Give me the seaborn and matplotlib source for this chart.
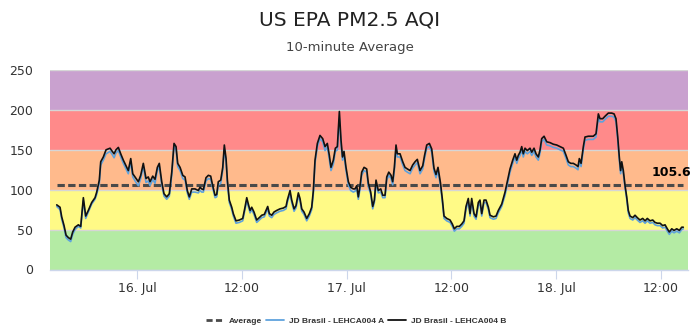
import matplotlib
matplotlib.use("Agg")
import matplotlib.pyplot as plt
import seaborn as sns
import pandas as pd
from matplotlib.lines import Line2D

TITLE = "US EPA PM2.5 AQI"
SUBTITLE = "10-minute Average"
SERIES_NAMES = ["JD Brasil - LEHCA004 A", "JD Brasil - LEHCA004 B"]
AVG_LABEL = "Average"
AVERAGE = 105.6

# hours since 15 Jul 00:00
HOURS = [14.80, 15.18, 15.37, 15.64, 15.87, 16.13, 16.40, 16.63, 16.90, 17.28,
         17.55, 17.85, 18.12, 18.42, 18.81, 19.19, 19.38, 19.68, 19.84, 20.14,
         20.45, 20.91, 21.10, 21.37, 21.59, 21.86, 22.13, 22.43, 22.82, 23.00,
         23.28, 23.51, 23.89, 24.15, 24.42, 24.72, 25.03, 25.29, 25.49, 25.80,
         26.06, 26.33, 26.55, 26.83, 27.09, 27.40, 27.70, 27.98, 28.24, 28.47,
         28.66, 28.93, 29.24, 29.50, 29.76, 29.99, 30.27, 30.64, 31.02, 31.22,
         31.41, 31.60, 31.90, 32.17, 32.44, 32.67, 32.94, 33.13, 33.31, 33.59,
         33.82, 34.00, 34.20, 34.35, 34.57, 34.85, 35.03, 35.34, 35.72, 36.11,
         36.37, 36.57, 36.75, 36.95, 37.14, 37.40, 37.71, 38.01, 38.29, 38.58,
         38.78, 38.97, 39.16, 39.43, 39.69, 40.00, 40.38, 40.76, 41.07, 41.22,
         41.53, 41.72, 41.99, 42.21, 42.48, 42.67, 42.87, 43.13, 43.44, 43.74,
         44.01, 44.20, 44.39, 44.66, 44.96, 45.27, 45.54, 45.80, 46.03, 46.22,
         46.49, 46.72, 46.95, 47.18, 47.37, 47.54, 47.71, 47.94, 48.21, 48.48,
         48.78, 48.97, 49.17, 49.35, 49.55, 49.74, 50.01, 50.31, 50.50, 50.77,
         51.00, 51.19, 51.38, 51.64, 51.92, 52.15, 52.41, 52.61, 52.84, 53.10,
         53.29, 53.48, 53.67, 53.82, 54.13, 54.44, 54.70, 54.97, 55.28, 55.58,
         55.85, 56.11, 56.42, 56.73, 56.94, 57.19, 57.49, 57.76, 58.02, 58.25,
         58.48, 58.77, 58.98, 59.17, 59.48, 59.86, 60.12, 60.35, 60.63, 60.92,
         61.20, 61.46, 61.69, 61.95, 62.15, 62.34, 62.61, 62.84, 63.10, 63.29,
         63.49, 63.75, 63.98, 64.25, 64.44, 64.82, 65.13, 65.39, 65.78, 66.16,
         66.42, 66.73, 67.04, 67.30, 67.50, 67.68, 67.88, 68.07, 68.25, 68.45,
         68.71, 69.02, 69.22, 69.48, 69.71, 69.97, 70.17, 70.36, 70.63, 70.94,
         71.31, 71.69, 72.08, 72.46, 72.84, 73.15, 73.41, 73.69, 73.98, 74.29,
         74.52, 74.67, 74.87, 75.13, 75.32, 75.70, 76.27, 76.58, 76.85, 77.04,
         77.35, 77.61, 77.99, 78.38, 78.65, 78.87, 79.07, 79.25, 79.40, 79.53,
         79.71, 79.91, 80.10, 80.28, 80.48, 80.79, 81.05, 81.31, 81.62, 81.93,
         82.20, 82.46, 82.77, 83.08, 83.34, 83.61, 83.92, 84.22, 84.49, 84.75,
         84.98, 85.26, 85.52, 85.83, 86.13, 86.40, 86.58]

AQI_A = [79, 75, 63, 52, 40, 37, 35, 44, 50, 54,
         52, 86, 64, 72, 82, 88, 94, 108, 131, 137,
         145, 148, 145, 140, 146, 149, 141, 133, 124, 120,
         135, 116, 109, 105, 114, 129, 109, 111, 105, 113,
         108, 124, 129, 106, 92, 88, 92, 118, 154, 150,
         129, 124, 114, 112, 96, 88, 97, 97, 96, 99,
         97, 97, 111, 114, 113, 102, 90, 91, 106, 108,
         124, 151, 135, 108, 84, 75, 67, 58, 59, 61,
         75, 86, 79, 71, 75, 69, 59, 62, 65, 66,
         71, 76, 67, 65, 69, 71, 73, 74, 76, 84,
         95, 84, 73, 77, 92, 86, 73, 69, 61, 67,
         75, 95, 133, 154, 164, 160, 149, 154, 138, 124,
         132, 148, 150, 190, 157, 137, 143, 124, 106, 99,
         97, 98, 101, 88, 101, 118, 124, 122, 104, 94,
         76, 84, 108, 96, 97, 90, 90, 112, 118, 114,
         106, 124, 152, 141, 141, 131, 124, 122, 120, 127,
         131, 134, 120, 126, 139, 152, 154, 147, 123, 115,
         124, 104, 85, 64, 61, 59, 54, 48, 51, 51,
         54, 58, 75, 85, 67, 85, 67, 63, 80, 83,
         67, 84, 84, 75, 65, 63, 64, 71, 79, 93,
         106, 122, 133, 141, 133, 139, 143, 150, 141, 148,
         145, 148, 143, 148, 141, 137, 146, 160, 163, 156,
         155, 153, 152, 150, 148, 139, 131, 129, 129, 127,
         125, 135, 129, 150, 162, 163, 163, 166, 190, 185,
         185, 188, 192, 192, 191, 185, 162, 137, 120, 130,
         120, 102, 88, 71, 64, 62, 65, 62, 59, 61,
         58, 61, 58, 59, 56, 55, 55, 52, 53, 48,
         44, 48, 46, 48, 46, 50, 51]

AQI_B = [81, 78, 66, 55, 43, 40, 38, 47, 53, 56,
         54, 90, 67, 74, 84, 90, 97, 112, 135, 141,
         150, 152, 149, 145, 150, 153, 145, 137, 128, 124,
         139, 120, 114, 110, 118, 133, 114, 116, 110, 117,
         113, 128, 133, 110, 95, 91, 95, 122, 158, 154,
         133, 128, 118, 116, 99, 91, 101, 101, 99, 103,
         101, 100, 115, 118, 117, 105, 93, 94, 110, 112,
         128, 156, 139, 112, 87, 78, 70, 61, 62, 64,
         78, 90, 82, 74, 78, 72, 62, 65, 68, 69,
         74, 79, 70, 68, 72, 74, 76, 77, 79, 87,
         99, 87, 76, 80, 96, 89, 76, 72, 64, 70,
         78, 99, 137, 158, 168, 164, 154, 158, 143, 128,
         137, 152, 154, 198, 162, 141, 148, 128, 110, 103,
         101, 101, 105, 91, 105, 122, 128, 126, 108, 97,
         79, 87, 112, 99, 101, 93, 93, 116, 122, 118,
         110, 128, 156, 145, 145, 135, 128, 126, 124, 131,
         135, 138, 124, 130, 143, 156, 158, 151, 127, 119,
         128, 108, 88, 67, 64, 62, 57, 51, 54, 54,
         57, 61, 79, 89, 70, 89, 70, 66, 84, 87,
         70, 87, 87, 78, 68, 66, 67, 74, 82, 97,
         110, 126, 137, 145, 137, 143, 147, 154, 145, 152,
         149, 152, 147, 152, 145, 141, 150, 164, 167, 160,
         159, 157, 156, 154, 152, 143, 135, 133, 133, 131,
         129, 139, 133, 154, 166, 167, 167, 170, 195, 189,
         189, 192, 196, 196, 195, 189, 166, 141, 124, 135,
         124, 105, 91, 74, 67, 65, 68, 65, 62, 64,
         61, 64, 61, 62, 59, 58, 58, 55, 56, 51,
         47, 51, 49, 51, 49, 53, 53]

TICK_HOURS = [24, 36, 48, 60, 72, 84]
TICK_LABELS = ["16. Jul", "12:00", "17. Jul", "12:00", "18. Jul", "12:00"]
Y_TICKS = [0, 50, 100, 150, 200, 250]
BAND_EDGES = [0, 50, 100, 150, 200, 250]
BAND_COLORS = ["#b4eba4", "#fffa86", "#ffba8c", "#ff8a8a", "#c9a1cf"]
COLOR_A = "#5fa2dd"
COLOR_B = "#111111"
COLOR_AVG = "#4a4a4a"

sns.set_theme(style="white")
plt.rcParams["font.family"] = ["DejaVu Sans"]

fig = plt.figure(figsize=(7, 3.34), dpi=100)
ax = fig.add_axes([50 / 700, 64.5 / 334, 638 / 700, 199.5 / 334])

for lo, hi, c in zip(BAND_EDGES[:-1], BAND_EDGES[1:], BAND_COLORS):
    ax.axhspan(lo, hi, color=c, lw=0, zorder=0)

n = len(HOURS)
df = pd.DataFrame({
    "hours": HOURS * 2,
    "aqi": AQI_A + AQI_B,
    "sensor": [SERIES_NAMES[0]] * n + [SERIES_NAMES[1]] * n,
})
sns.lineplot(data=df[df.sensor == SERIES_NAMES[0]], x="hours", y="aqi",
             color=COLOR_A, lw=1.2, estimator=None, legend=False, ax=ax, zorder=3)
sns.lineplot(data=df[df.sensor == SERIES_NAMES[1]], x="hours", y="aqi",
             color=COLOR_B, lw=1.2, estimator=None, legend=False, ax=ax, zorder=4)

avg_df = pd.DataFrame({"hours": [HOURS[0], HOURS[-1]], "aqi": [AVERAGE, AVERAGE]})
sns.lineplot(data=avg_df, x="hours", y="aqi", color=COLOR_AVG, lw=2.2,
             estimator=None, legend=False, ax=ax, zorder=2)
ax.lines[-1].set_dashes((2.4, 1.1))

ax.annotate(f"{AVERAGE}", xy=(HOURS[-1], AVERAGE), xytext=(5.8, 9.4),
            textcoords="offset points", ha="right", va="center",
            fontsize=9, fontweight="bold", color="black", annotation_clip=False,
            zorder=6)

ax.set_xlim(14.03, 87.12)
ax.set_ylim(0, 250)
ax.set_xticks(TICK_HOURS, TICK_LABELS)
ax.set_yticks(Y_TICKS)
ax.set_axisbelow(True)
ax.grid(axis="y", color="#d6d6d6", lw=1)
ax.grid(axis="x", visible=False)
ax.set_xlabel("")
ax.set_ylabel("")
for s in ["top", "right", "left"]:
    ax.spines[s].set_visible(False)
ax.spines["bottom"].set_color("#ccd6eb")
ax.spines["bottom"].set_linewidth(1)
ax.tick_params(axis="x", direction="out", length=6.5, width=0.8, color="#ccd6eb",
               labelcolor="#333333", labelsize=9, pad=2.5, bottom=True)
ax.tick_params(axis="y", length=0, labelcolor="#333333", labelsize=9, pad=12)

fig.text(0.5, 1 - 20.5 / 334, TITLE, ha="center", va="center", fontsize=14.5, color="#222222")
fig.text(0.5, 1 - 47 / 334, SUBTITLE, ha="center", va="center", fontsize=9.5, color="#444444")

handles = [
    Line2D([], [], color=COLOR_AVG, lw=2, dashes=(2.2, 1.2)),
    Line2D([], [], color=COLOR_A, lw=1.3),
    Line2D([], [], color=COLOR_B, lw=1.3),
]
labels = [AVG_LABEL] + SERIES_NAMES
fig.legend(handles, labels, loc="center", bbox_to_anchor=(356 / 700, 1 - 321 / 334),
           ncol=3, frameon=False,
           prop={"weight": "bold", "size": 6, "family": "Liberation Sans"},
           handlelength=2.2, handletextpad=0.6, columnspacing=0.4, labelcolor="#333333")

fig.savefig("out.png", dpi=100)
